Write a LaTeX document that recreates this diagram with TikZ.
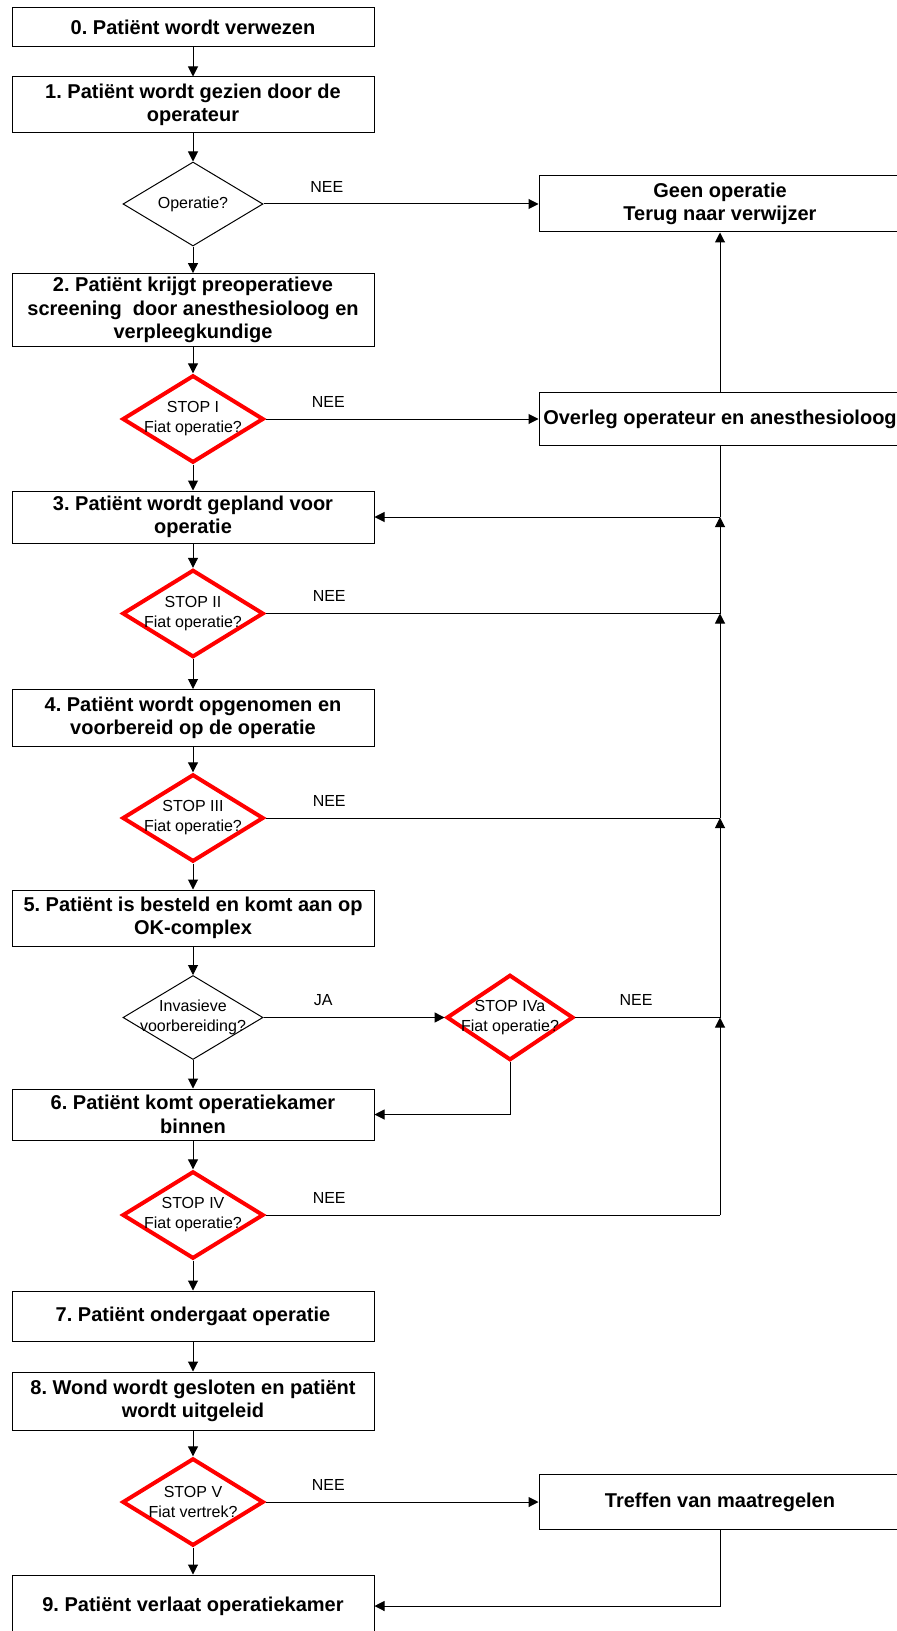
\documentclass[tikz,border=0pt]{standalone}
\usepackage{fontspec}
\setmainfont{Liberation Sans}
\usetikzlibrary{shapes.geometric,arrows.meta}
\frenchspacing

\tikzset{
  stapbox/.style={draw, rectangle, line width=0.5pt, minimum width=181pt, inner sep=0pt, align=center, font=\bfseries\fontsize{10}{11.8}\selectfont},
  keuze/.style={draw, diamond, line width=0.5pt, minimum width=70pt, minimum height=42pt, inner sep=0pt},
  stopkeuze/.style={draw=red, diamond, line width=2pt, line join=miter, minimum width=70.6pt, minimum height=43.7pt, inner sep=0pt},
  keuzetekst/.style={align=center, inner sep=0pt, font=\fontsize{8}{10}\selectfont},
  pijl/.style={-{Triangle[length=5pt,width=5pt]}, line width=0.5pt},
  lijn/.style={line width=0.5pt},
  antwoord/.style={above=5.6pt, inner sep=0pt, font=\fontsize{8}{9}\selectfont}
}

\begin{document}
\begin{tikzpicture}[x=0.5pt, y=-0.5pt]
    \useasboundingbox (0,0) rectangle (896,1631);

    \node[stapbox, minimum height=19.5pt] (b0) at (193,27.5) {0. Patiënt wordt verwezen};
    \node[stapbox, minimum height=28pt] (b1) at (193,105) {1. Patiënt wordt gezien door de\\operateur};
    \node[keuze, label={[keuzetekst]center:Operatie?}] (d1) at (193,204) {};
    \node[stapbox, minimum height=28pt] (geen) at (720,204) {Geen operatie\\Terug naar verwijzer};
    \node[stapbox, minimum height=36.4pt] (b2) at (193,310) {2. Patiënt krijgt preoperatieve\\screening\ \ door anesthesioloog en\\verpleegkundige};
    \node[stopkeuze, label={[keuzetekst]center:{STOP I\\Fiat operatie?}}] (s1) at (193,419) {};
    \node[stapbox, minimum height=26.8pt] (ov) at (720,419) {Overleg operateur en anesthesioloog};
    \node[stapbox, minimum height=26pt] (b3) at (193,517) {3. Patiënt wordt gepland voor\\operatie};
    \node[stopkeuze, label={[keuzetekst]center:{STOP II\\Fiat operatie?}}] (s2) at (193,613.5) {};
    \node[stapbox, minimum height=28.5pt] (b4) at (193,718) {4. Patiënt wordt opgenomen en\\voorbereid op de operatie};
    \node[stopkeuze, label={[keuzetekst]center:{STOP III\\Fiat operatie?}}] (s3) at (193,818) {};
    \node[stapbox, minimum height=28pt] (b5) at (193,918) {5. Patiënt is besteld en komt aan op\\OK-complex};
    \node[keuze, label={[keuzetekst]center:{Invasieve\\voorbereiding?}}] (d2) at (193,1017.5) {};
    \node[stopkeuze, minimum width=63.4pt, minimum height=42.7pt, label={[keuzetekst]center:{STOP IVa\\Fiat operatie?}}] (s4a) at (510,1017.5) {};
    \node[stapbox, minimum height=25.5pt] (b6) at (193,1114.5) {6. Patiënt komt operatiekamer\\binnen};
    \node[stopkeuze, label={[keuzetekst]center:{STOP IV\\Fiat operatie?}}] (s4) at (193,1215) {};
    \node[stapbox, minimum height=25pt] (b7) at (193,1316) {7. Patiënt ondergaat operatie};
    \node[stapbox, minimum height=29pt] (b8) at (193,1401) {8. Wond wordt gesloten en patiënt\\wordt uitgeleid};
    \node[stopkeuze, label={[keuzetekst]center:{STOP V\\Fiat vertrek?}}] (s5) at (193,1502) {};
    \node[stapbox, minimum height=27.5pt] (tr) at (720,1502) {Treffen van maatregelen};
    \node[stapbox, minimum height=31pt] (b9) at (193,1606) {9. Patiënt verlaat operatiekamer};

    \draw[pijl] (b0) -- (b1);
    \draw[pijl] (b1) -- (d1);
    \draw[pijl] (d1) -- (b2);
    \draw[pijl] (b2) -- (s1);
    \draw[pijl] (s1) -- (b3);
    \draw[pijl] (b3) -- (s2);
    \draw[pijl] (s2) -- (b4);
    \draw[pijl] (b4) -- (s3);
    \draw[pijl] (s3) -- (b5);
    \draw[pijl] (b5) -- (d2);
    \draw[pijl] (d2) -- (b6);
    \draw[pijl] (b6) -- (s4);
    \draw[pijl] (s4) -- (b7);
    \draw[pijl] (b7) -- (b8);
    \draw[pijl] (b8) -- (s5);
    \draw[pijl] (s5) -- (b9);

    \draw[pijl] (d1.east) -- node[antwoord, pos=.23] {NEE} (geen.west);
    \draw[pijl] (s1.east) -- node[antwoord, pos=.23] {NEE} (ov.west);
    \draw[pijl] (ov.north) -- (geen.south);
    \draw[pijl] (d2.east) -- node[antwoord, pos=.33] {JA} (s4a.west);
    \draw[pijl] (s4a.south) |- (b6.east);
    \draw[pijl] (s5.east) -- node[antwoord, pos=.23] {NEE} (tr.west);
    \draw[pijl] (tr.south) |- (b9.east);

    \coordinate (j3) at (ov.south |- b3.east);
    \coordinate (j2) at (ov.south |- s2.east);
    \coordinate (jb) at (ov.south |- s3.east);
    \coordinate (ja) at (ov.south |- s4a.east);
    \coordinate (j4) at (ov.south |- s4.east);
    \draw[lijn] (ov.south) -- (j3);
    \draw[pijl] (j3) -- (b3.east);
    \draw[lijn] (s2.east) -- node[antwoord, pos=.14] {NEE} (j2);
    \draw[pijl] (j2) -- (j3);
    \draw[lijn] (s3.east) -- node[antwoord, pos=.14] {NEE} (jb);
    \draw[pijl] (jb) -- (j2);
    \draw[lijn] (s4a.east) -- node[antwoord, pos=.42] {NEE} (ja);
    \draw[pijl] (ja) -- (jb);
    \draw[lijn] (s4.east) -- node[antwoord, pos=.14] {NEE} (j4);
    \draw[pijl] (j4) -- (ja);
\end{tikzpicture}
\end{document}
